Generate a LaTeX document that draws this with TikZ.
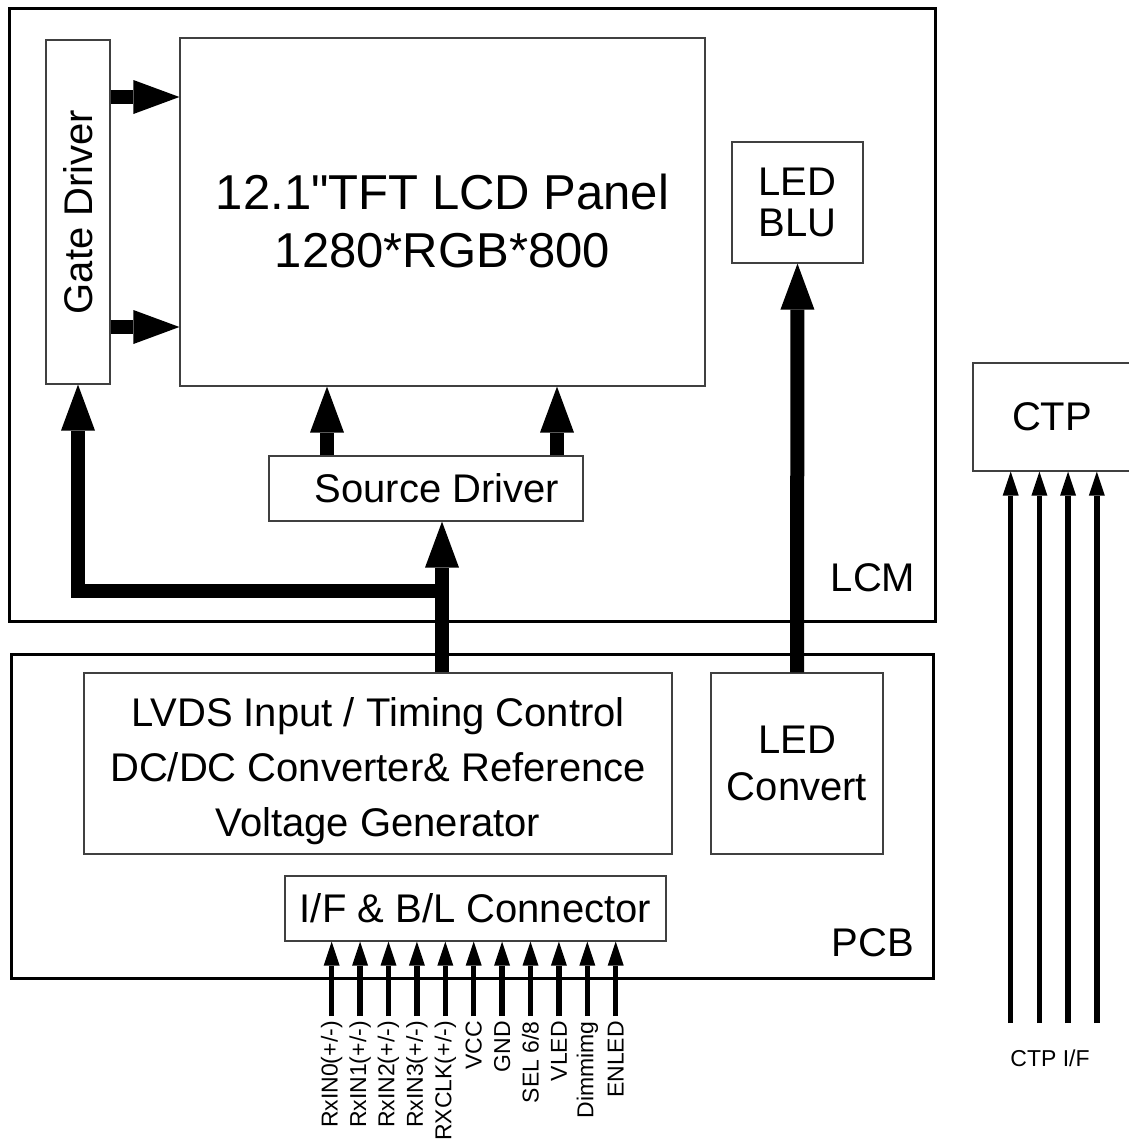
\documentclass[tikz,border=0pt]{standalone}
\usepackage{fontspec}
\setmainfont{Liberation Sans}[Ligatures=TeXOff]
\usetikzlibrary{positioning,arrows.meta}
\newcommand{\pmsig}{(+/-)}
\begin{document}
\begin{tikzpicture}[x=1pt, y=-1pt, frame/.style={draw, line width=3pt, inner sep=0pt}, box/.style={draw=black!75, line width=1.2pt, inner sep=0pt, align=center, font=\fontsize{40}{47}\selectfont}, lbl/.style={font=\fontsize{40}{47}\selectfont}, fat/.style={line width=14pt, -{Triangle[length=46pt,width=34pt,line width=0pt]}}, wire/.style={line width=5.5pt, -{Triangle[length=24pt,width=16pt,line width=0pt]}}, sig/.style={rotate=90, anchor=east, inner sep=0pt, font=\fontsize{23}{23}\selectfont}]
\useasboundingbox (0,0) rectangle (1129,1146);
\node[frame, minimum width=926pt, minimum height=613pt](lcm) at (472,314.5){};
\node[frame, minimum width=922pt, minimum height=324pt](pcb) at (472,816){};
\node[lbl](lcmtag) at (873,578){LCM};
\node[lbl](pcbtag) at (873,943){PCB};
\node[box, minimum width=64pt, minimum height=344pt](gate) at (78,212){\rotatebox{90}{Gate Driver}};
\node[box, minimum width=525pt, minimum height=348pt, font=\fontsize{49}{58}\selectfont](panel) at (442.5,212){\rule{0pt}{53pt}12.1"TFT LCD Panel\\1280*RGB*800};
\node[box, minimum width=131pt, minimum height=121pt, font=\fontsize{40}{41}\selectfont](blu) at (797.5,202.5){LED\\BLU};
\node[box, minimum width=314pt, minimum height=65pt](src) at (426,488.5){\hspace*{22pt}Source Driver};
\node[box, minimum width=588pt, minimum height=181pt](lvds) at (378,763.5){\rule{0pt}{45pt}LVDS Input / Timing Control\\[8pt]DC/DC Converter\& Reference\\[8pt]Voltage Generator};
\node[box, minimum width=172pt, minimum height=181pt](ledc) at (797,763.5){LED\\Convert};
\node[box, minimum width=381pt, minimum height=65pt](conn) at (475.5,908.5){I/F \& B/L Connector};
\node[box, minimum width=158pt, minimum height=108pt](ctp) at (1052,417){CTP};
\coordinate (split) at (442,591);
\foreach \dy in {115,-115}
  \draw[fat] ([yshift=\dy pt]gate.east) -- ([yshift=\dy pt]gate.east -| panel.west);
\foreach \dx in {-99,131}
  \draw[fat] ([xshift=\dx pt]src.north) -- ([xshift=\dx pt]src.north |- panel.south);
\draw[fat] (lvds.north -| split) -- (src.south -| split);
\draw[fat] (split) -| (gate.south);
\draw[fat] (ledc.north) -- (blu.south);
\foreach \pin [count=\i from 0] in {RxIN0\pmsig,RxIN1\pmsig,RxIN2\pmsig,RxIN3\pmsig,RXCLK\pmsig,VCC,GND,SEL 6\slash 8,VLED,Dimmimg,ENLED}{
  \coordinate (p\i) at (331.7+28.4*\i,1016);
  \draw[wire] (p\i) -- (p\i |- conn.south);
  \node[sig](t\i) at ([yshift=-5pt]p\i){\pin};
}
\foreach \i in {0,...,3}{
  \coordinate (q\i) at (1010.7+28.7*\i,1023);
  \draw[wire] (q\i) -- (q\i |- ctp.south);
}
\node[font=\fontsize{23}{23}\selectfont](ctpif) at (1050,1058){CTP I/F};
\end{tikzpicture}
\end{document}
